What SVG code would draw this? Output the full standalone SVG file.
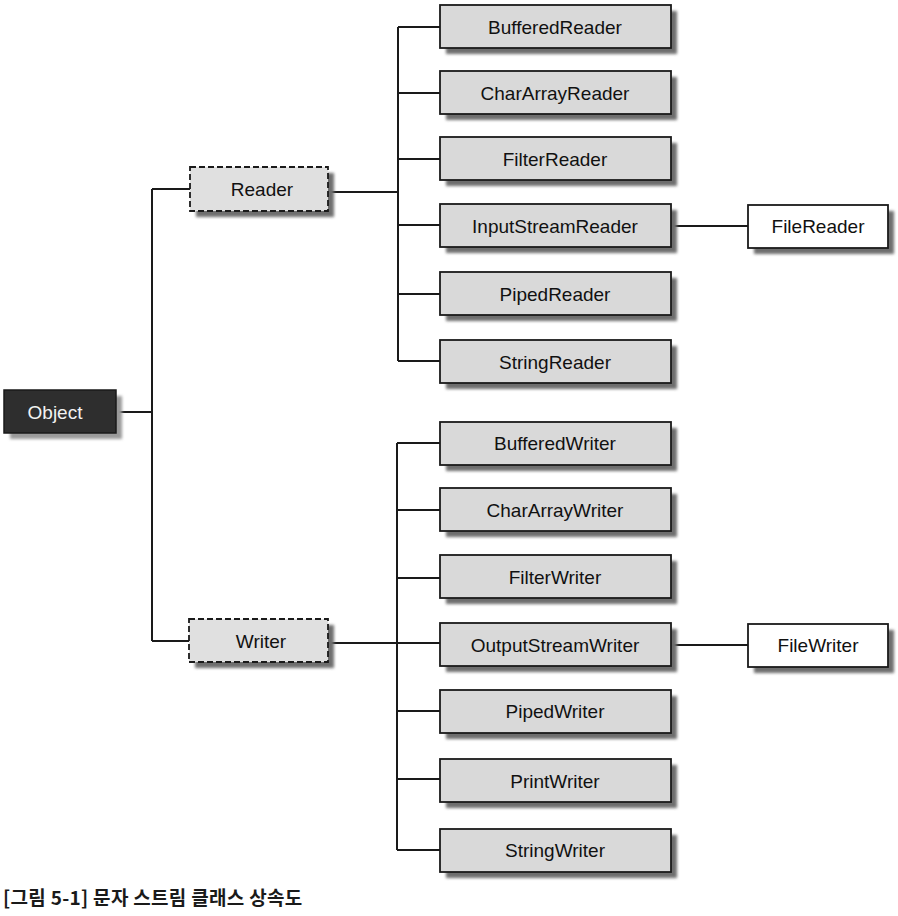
<svg xmlns="http://www.w3.org/2000/svg" width="898" height="916" viewBox="0 0 898 916">
<style>
.lbl{font-family:"Liberation Sans",Arial,sans-serif;font-size:19px;fill:#111111;text-anchor:middle;dominant-baseline:central}
.box{fill:#d9d9d9;stroke:#1a1a1a;stroke-width:1.8}
.dash{fill:#e0e0e0;stroke:#1a1a1a;stroke-width:1.8;stroke-dasharray:6 3}
.white{fill:#ffffff;stroke:#1a1a1a;stroke-width:1.8}
.shadow{fill:#6e6e6e;filter:url(#blur)}
.conn line{stroke:#1a1a1a;stroke-width:2}
.cap{font-family:"Noto Sans CJK KR","Liberation Sans",sans-serif;font-size:19px;font-weight:bold;fill:#1a1a1a;letter-spacing:0.3px}
</style>
<defs>
<filter id="blur" x="-10%" y="-20%" width="130%" height="160%"><feGaussianBlur stdDeviation="1.5"/></filter>
</defs>
<rect width="898" height="916" fill="#ffffff"/>
<g class="conn">
<line x1="116" y1="412" x2="152" y2="412"/>
<line x1="152" y1="189" x2="152" y2="641"/>
<line x1="152" y1="189" x2="190" y2="189"/>
<line x1="152" y1="641" x2="189" y2="641"/>
<line x1="328" y1="192" x2="398" y2="192"/>
<line x1="398" y1="27" x2="398" y2="361"/>
<line x1="398" y1="27" x2="440" y2="27"/>
<line x1="398" y1="93" x2="440" y2="93"/>
<line x1="398" y1="159" x2="440" y2="159"/>
<line x1="398" y1="225" x2="440" y2="225"/>
<line x1="398" y1="294" x2="440" y2="294"/>
<line x1="398" y1="361" x2="440" y2="361"/>
<line x1="670" y1="226" x2="748" y2="226"/>
<line x1="328" y1="643" x2="440" y2="643"/>
<line x1="397" y1="443" x2="397" y2="850"/>
<line x1="397" y1="443" x2="440" y2="443"/>
<line x1="397" y1="510" x2="440" y2="510"/>
<line x1="397" y1="578" x2="440" y2="578"/>
<line x1="397" y1="711" x2="440" y2="711"/>
<line x1="397" y1="779" x2="440" y2="779"/>
<line x1="397" y1="850" x2="440" y2="850"/>
<line x1="670" y1="645" x2="748" y2="645"/>
</g>
<g id="object"><rect class="shadow" x="10" y="396" width="112" height="43" style="fill:#9a9a9a"/><rect x="4" y="390" width="112" height="43" fill="#2e2e2e" stroke="#1a1a1a" stroke-width="1.5"/><text class="lbl" x="55" y="412" style="fill:#f2f2f2">Object</text></g>
<g id="reader"><rect class="shadow" x="196" y="173" width="138" height="44"/><rect class="dash" x="190" y="167" width="138" height="44"/><text class="lbl" x="262" y="189">Reader</text></g>
<g id="writer"><rect class="shadow" x="195" y="625" width="139" height="43"/><rect class="dash" x="189" y="619" width="139" height="43"/><text class="lbl" x="261" y="641">Writer</text></g>
<g id="bufferedreader"><rect class="shadow" x="446" y="11" width="231" height="43"/><rect class="box" x="440" y="5" width="231" height="43"/><text class="lbl" x="555" y="27">BufferedReader</text></g>
<g id="chararrayreader"><rect class="shadow" x="446" y="77" width="231" height="43"/><rect class="box" x="440" y="71" width="231" height="43"/><text class="lbl" x="555" y="93">CharArrayReader</text></g>
<g id="filterreader"><rect class="shadow" x="446" y="143" width="231" height="43"/><rect class="box" x="440" y="137" width="231" height="43"/><text class="lbl" x="555" y="159">FilterReader</text></g>
<g id="inputstreamreader"><rect class="shadow" x="446" y="210" width="231" height="43"/><rect class="box" x="440" y="204" width="231" height="43"/><text class="lbl" x="555" y="226">InputStreamReader</text></g>
<g id="pipedreader"><rect class="shadow" x="446" y="278" width="231" height="43"/><rect class="box" x="440" y="272" width="231" height="43"/><text class="lbl" x="555" y="294">PipedReader</text></g>
<g id="stringreader"><rect class="shadow" x="446" y="346" width="231" height="43"/><rect class="box" x="440" y="340" width="231" height="43"/><text class="lbl" x="555" y="362">StringReader</text></g>
<g id="filereader"><rect class="shadow" x="754" y="211" width="140" height="43"/><rect class="white" x="748" y="205" width="140" height="43"/><text class="lbl" x="818" y="226">FileReader</text></g>
<g id="bufferedwriter"><rect class="shadow" x="446" y="428" width="231" height="43"/><rect class="box" x="440" y="422" width="231" height="43"/><text class="lbl" x="555" y="443">BufferedWriter</text></g>
<g id="chararraywriter"><rect class="shadow" x="446" y="494" width="231" height="43"/><rect class="box" x="440" y="488" width="231" height="43"/><text class="lbl" x="555" y="510">CharArrayWriter</text></g>
<g id="filterwriter"><rect class="shadow" x="446" y="561" width="231" height="43"/><rect class="box" x="440" y="555" width="231" height="43"/><text class="lbl" x="555" y="577">FilterWriter</text></g>
<g id="outputstreamwriter"><rect class="shadow" x="446" y="629" width="231" height="43"/><rect class="box" x="440" y="623" width="231" height="43"/><text class="lbl" x="555" y="645">OutputStreamWriter</text></g>
<g id="pipedwriter"><rect class="shadow" x="446" y="696" width="231" height="43"/><rect class="box" x="440" y="690" width="231" height="43"/><text class="lbl" x="555" y="711">PipedWriter</text></g>
<g id="printwriter"><rect class="shadow" x="446" y="765" width="231" height="43"/><rect class="box" x="440" y="759" width="231" height="43"/><text class="lbl" x="555" y="781">PrintWriter</text></g>
<g id="stringwriter"><rect class="shadow" x="446" y="835" width="231" height="43"/><rect class="box" x="440" y="829" width="231" height="43"/><text class="lbl" x="555" y="850">StringWriter</text></g>
<g id="filewriter"><rect class="shadow" x="754" y="630" width="140" height="43"/><rect class="white" x="748" y="624" width="140" height="43"/><text class="lbl" x="818" y="645">FileWriter</text></g>
<text class="cap" x="3" y="905">[그림 5-1] 문자 스트림 클래스 상속도</text>
</svg>
